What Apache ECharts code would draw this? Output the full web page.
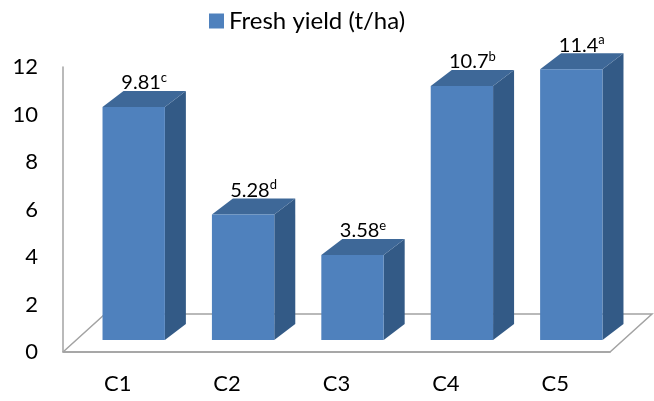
<!DOCTYPE html>
<html>
<head>
<meta charset="utf-8">
<script src="https://cdn.jsdelivr.net/npm/echarts@6/dist/echarts.min.js"></script>
<style>
  html, body { margin: 0; padding: 0; background: #fff; }
  #chart { width: 654px; height: 401px; }
</style>
</head>
<body>
<div id="chart"></div>
<script>
var categories = ['C1', 'C2', 'C3', 'C4', 'C5'];
var freshYield = [9.81, 5.28, 3.58, 10.7, 11.4];
var letters = ['c', 'd', 'e', 'b', 'a'];
var yMin = 0, yMax = 12, yStep = 2;

var FRONT = '#4f81bd', TOP = '#3e6898', SIDE = '#335a86', LINE = '#a3a3a3';
var FONT = 'Lato';

var chart = echarts.init(document.getElementById('chart'));

// floor of the 3d box, drawn once behind the bars
function renderFloor(params, api) {
  var a = api.coord([0, 0]);
  var left = params.coordSys.x, right = params.coordSys.x + params.coordSys.width;
  var y = a[1], dx = 42, dy = -38;
  return {
    type: 'polyline',
    shape: { points: [[left, y], [right, y], [right + dx, y + dy], [left + dx, y + dy], [left, y]] },
    style: { stroke: LINE, lineWidth: 1.5, fill: null },
    silent: true
  };
}

function renderBar(params, api) {
  var i = api.value(0), v = api.value(1);
  var base = api.coord([i, 0]);
  var top = api.coord([i, v]);
  var bw = api.size([1, 0])[0] * 0.57;
  var ox = 16, oy = -12, dx = 21, dy = -16;
  var x0 = base[0] - bw / 2 + ox, x1 = x0 + bw;
  var yb = base[1] + oy, yt = top[1] + oy;
  return {
    type: 'group',
    children: [
      { type: 'polygon', shape: { points: [[x1, yb], [x1 + dx, yb + dy], [x1 + dx, yt + dy], [x1, yt]] },
        style: { fill: SIDE } },
      { type: 'polygon', shape: { points: [[x0, yt], [x0 + dx, yt + dy], [x1 + dx, yt + dy], [x1, yt]] },
        style: { fill: TOP } },
      { type: 'rect', shape: { x: x0, y: yt, width: bw, height: yb - yt },
        style: { fill: FRONT } },
      { type: 'text',
        style: {
          x: x0 + bw / 2 + dx / 2, y: yt + dy + 4,
          align: 'center', verticalAlign: 'bottom',
          text: '{v|' + freshYield[params.dataIndex] + '}{s|' + letters[params.dataIndex] + '}',
          rich: {
            v: { fontFamily: FONT, fontSize: 20, lineHeight: 24, color: '#000' },
            s: { fontFamily: FONT, fontSize: 13, lineHeight: 15, verticalAlign: 'top', color: '#000' }
          }
        } }
    ]
  };
}

var option = {
  animation: false,
  legend: {
    left: 204, top: 4,
    icon: 'rect', itemWidth: 15, itemHeight: 15, itemGap: 8,
    textStyle: { fontFamily: FONT, fontSize: 24, color: '#000' },
    data: ['Fresh yield (t/ha)']
  },
  grid: { left: 63, right: 44, top: 67, bottom: 49 },
  xAxis: {
    type: 'category',
    data: categories,
    axisLine: { lineStyle: { color: LINE, width: 1.5 } },
    axisTick: { show: false },
    axisLabel: { color: '#000', fontFamily: FONT, fontSize: 22, margin: 21 }
  },
  yAxis: {
    type: 'value',
    min: yMin, max: yMax, interval: yStep,
    axisLine: { show: true, lineStyle: { color: LINE, width: 1.5 } },
    axisTick: { show: false },
    splitLine: { show: false },
    axisLabel: { color: '#000', fontFamily: FONT, fontSize: 22, margin: 25 }
  },
  series: [
    { type: 'custom', name: 'floor', renderItem: renderFloor, data: [[0, 0]], z: 1, silent: true, clip: false },
    {
      type: 'custom', name: 'Fresh yield (t/ha)',
      itemStyle: { color: FRONT },
      renderItem: renderBar, z: 2, clip: false,
      data: freshYield.map(function (v, i) { return [i, v]; })
    }
  ]
};

chart.setOption(option);
</script>
</body>
</html>
